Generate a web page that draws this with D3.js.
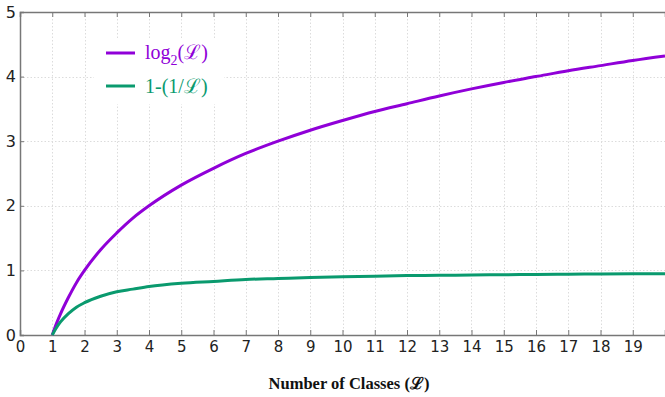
<!DOCTYPE html>
<html>
<head>
<meta charset="utf-8">
<script src="https://cdn.jsdelivr.net/npm/d3@7/dist/d3.min.js"></script>
<style>
  html, body { margin: 0; padding: 0; background: #fff; }
  svg { display: block; }
</style>
</head>
<body>
<svg id="chart" width="665" height="397"></svg>
<script>
// Number of classes (L) at which the curves are sampled
const classes = [1, 1.1, 1.25, 1.5, 1.75, 2, 2.5, 3, 3.5, 4, 5, 6, 7, 8, 9, 10, 11, 12, 13, 14, 15, 16, 17, 18, 19, 20];
// log2(L)
const logValues = [0, 0.14, 0.32, 0.58, 0.81, 1, 1.32, 1.58, 1.81, 2, 2.32, 2.58, 2.81, 3, 3.17, 3.32, 3.46, 3.58, 3.70, 3.81, 3.91, 4, 4.09, 4.17, 4.25, 4.32];
// 1 - (1/L)
const invValues = [0, 0.09, 0.2, 0.33, 0.43, 0.5, 0.6, 0.67, 0.71, 0.75, 0.8, 0.83, 0.86, 0.875, 0.89, 0.9, 0.91, 0.92, 0.923, 0.93, 0.933, 0.938, 0.941, 0.944, 0.947, 0.95];
const xTicks = d3.range(0, 20);
const yTicks = [0, 1, 2, 3, 4, 5];
const colors = ["#9000d8", "#0a9a6e"];

const svg = d3.select("#chart");
const mLeft = 20, mRight = 665, mTop = 12, mBottom = 335;
const x = d3.scaleLinear().domain([0, 20]).range([mLeft, mRight]);
const y = d3.scaleLinear().domain([0, 5]).range([mBottom, mTop]);

// grid
const grid = svg.append("g").attr("stroke", "#dcdcdc").attr("stroke-width", 1).attr("stroke-dasharray", "1.5,2");
grid.selectAll(".gx").data(xTicks.filter(d => d > 0)).join("line")
  .attr("x1", d => Math.round(x(d)) + 0.5).attr("x2", d => Math.round(x(d)) + 0.5)
  .attr("y1", mTop).attr("y2", mBottom);
grid.selectAll(".gy").data(yTicks.filter(d => d > 0 && d < 5)).join("line")
  .attr("x1", mLeft).attr("x2", mRight)
  .attr("y1", d => Math.round(y(d)) + 0.5).attr("y2", d => Math.round(y(d)) + 0.5);

// legend background
svg.append("rect").attr("x", 94).attr("y", 40).attr("width", 130).attr("height", 64).attr("fill", "#fff");

// axes frame
const axisColor = "#777";
const axisFont = "'DejaVu Sans', sans-serif";
const xAxis = d3.axisBottom(x).tickValues(xTicks).tickSize(-5).tickPadding(6).tickFormat(d3.format("d"));
const gx = svg.append("g").attr("transform", `translate(0,${mBottom})`).call(xAxis);
const xTop = d3.axisTop(x).tickValues(xTicks).tickSize(-5).tickFormat("");
const gxt = svg.append("g").attr("transform", `translate(0,${mTop})`).call(xTop);
const yAxis = d3.axisLeft(y).tickValues(yTicks).tickSize(-4).tickPadding(5).tickFormat(d3.format("d"));
const gy = svg.append("g").attr("transform", `translate(${mLeft},0)`).call(yAxis);
[gx, gxt, gy].forEach(g => {
  g.select(".domain").attr("stroke", axisColor).attr("stroke-width", 1.5);
  g.selectAll(".tick line").attr("stroke", axisColor);
  g.selectAll("text").attr("fill", "#222").style("font-family", axisFont).style("font-size", "15px");
});
gx.selectAll(".tick").filter(d => d === 0).select("line").remove();
gy.selectAll("text").attr("x", -4).style("font-size", "16px");
gy.selectAll(".tick").filter(d => d === 0 || d === 5).select("line").remove();

// curves
const seriesData = [logValues, invValues];
const line = d3.line().x((d, i) => x(classes[i])).y(d => y(d)).curve(d3.curveMonotoneX);
svg.append("defs").append("clipPath").attr("id", "clip").append("rect")
  .attr("x", mLeft).attr("y", mTop - 5).attr("width", mRight - mLeft).attr("height", mBottom - mTop + 10);
svg.append("g").attr("clip-path", "url(#clip)").selectAll("path").data(seriesData).join("path")
  .attr("d", line).attr("fill", "none")
  .attr("stroke", (d, i) => colors[i]).attr("stroke-width", 3).attr("stroke-linejoin", "round");

// legend
const legend = svg.append("g").style("font-family", "'Liberation Serif', 'Times New Roman', serif").style("font-size", "20px");
const rows = [
  { y: 53, color: colors[0] },
  { y: 86, color: colors[1] }
];
legend.selectAll("line").data(rows).join("line")
  .attr("x1", 106).attr("x2", 135).attr("y1", d => d.y).attr("y2", d => d.y)
  .attr("stroke", d => d.color).attr("stroke-width", 3);
const t1 = legend.append("text").attr("x", 145).attr("y", rows[0].y + 6).attr("fill", colors[0]);
t1.append("tspan").text("log");
t1.append("tspan").attr("dy", 6).style("font-size", "14px").text("2");
t1.append("tspan").attr("dy", -6).text("(ℒ)");
legend.append("text").attr("x", 145).attr("y", rows[1].y + 7).attr("fill", colors[1]).text("1-(1/ℒ)");

// axis title
svg.append("text").attr("x", 349).attr("y", 389).attr("text-anchor", "middle")
  .style("font-family", "'Liberation Serif', 'Times New Roman', serif").style("font-weight", "bold").style("font-size", "16.5px")
  .attr("fill", "#111").text("Number of Classes (ℒ)");
</script>
</body>
</html>
